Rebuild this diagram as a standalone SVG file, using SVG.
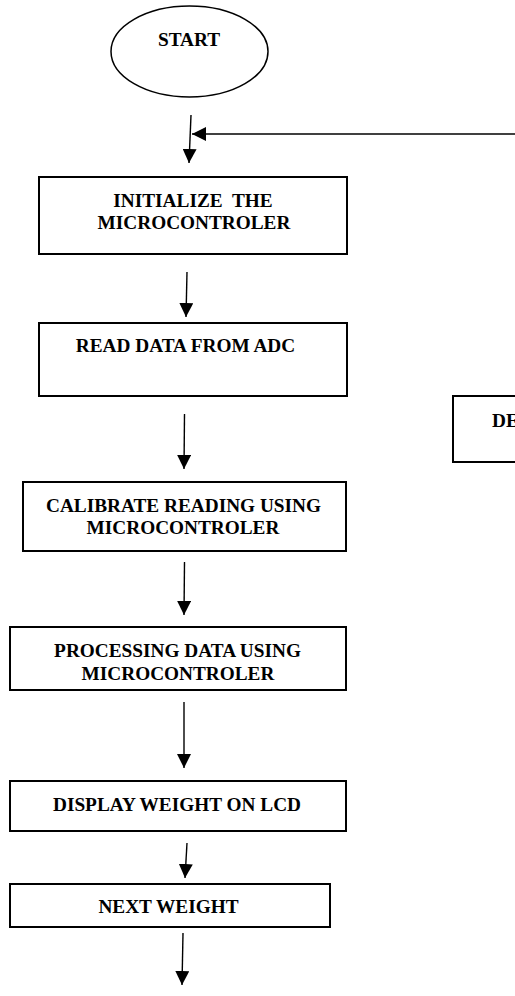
<svg xmlns="http://www.w3.org/2000/svg" width="515" height="996" viewBox="0 0 515 996">
<style>
.box{fill:#fff;stroke:#000;stroke-width:2}
.t{font-family:"Liberation Serif","Times New Roman",serif;font-weight:bold;font-size:19.3px;fill:#000;text-anchor:middle;white-space:pre}
.c{stroke:#000;stroke-width:1.4;fill:none}
</style>
<defs>
<marker id="ah" viewBox="0 0 14 14" refX="14" refY="7" markerWidth="14" markerHeight="14" markerUnits="userSpaceOnUse" orient="auto">
<path d="M0,0 L14,7 L0,14 Z" fill="#000"/>
</marker>
</defs>
<rect width="515" height="996" fill="#fff"/>
<g id="start">
<ellipse cx="189.5" cy="51.5" rx="78.5" ry="45.5" fill="#fff" stroke="#000" stroke-width="1.5"/>
<text class="t" x="189" y="46">START</text>
</g>
<g id="init">
<rect class="box" x="39" y="177" width="308" height="77"/>
<text class="t" x="193" y="207" xml:space="preserve">INITIALIZE  THE</text>
<text class="t" x="194" y="229">MICROCONTROLER</text>
</g>
<g id="read">
<rect class="box" x="39" y="323" width="308" height="73"/>
<text class="t" x="185.5" y="352">READ DATA FROM ADC</text>
</g>
<g id="decision">
<rect class="box" x="453" y="396" width="70" height="66"/>
<text class="t" x="492" y="427" style="text-anchor:start">DE</text>
</g>
<g id="calibrate">
<rect class="box" x="23" y="482" width="323" height="69"/>
<text class="t" x="183.5" y="512">CALIBRATE READING USING</text>
<text class="t" x="183" y="534">MICROCONTROLER</text>
</g>
<g id="process">
<rect class="box" x="10" y="627" width="336" height="63"/>
<text class="t" x="177.5" y="657">PROCESSING DATA USING</text>
<text class="t" x="178" y="680">MICROCONTROLER</text>
</g>
<g id="display">
<rect class="box" x="10" y="781" width="336" height="50"/>
<text class="t" x="177" y="811">DISPLAY WEIGHT ON LCD</text>
</g>
<g id="next">
<rect class="box" x="10" y="884" width="320" height="43"/>
<text class="t" x="168.5" y="913">NEXT WEIGHT</text>
</g>
<g id="connectors">
<line class="c" x1="515" y1="134" x2="192" y2="134" marker-end="url(#ah)"/>
<line class="c" x1="191" y1="115" x2="189" y2="163" marker-end="url(#ah)"/>
<line class="c" x1="187" y1="272" x2="186" y2="317" marker-end="url(#ah)"/>
<line class="c" x1="184.5" y1="414" x2="184" y2="469" marker-end="url(#ah)"/>
<line class="c" x1="184.5" y1="562" x2="184" y2="615" marker-end="url(#ah)"/>
<line class="c" x1="184" y1="702" x2="184" y2="768" marker-end="url(#ah)"/>
<line class="c" x1="187" y1="843" x2="185" y2="878" marker-end="url(#ah)"/>
<line class="c" x1="183" y1="933" x2="182" y2="985" marker-end="url(#ah)"/>
</g>
</svg>
